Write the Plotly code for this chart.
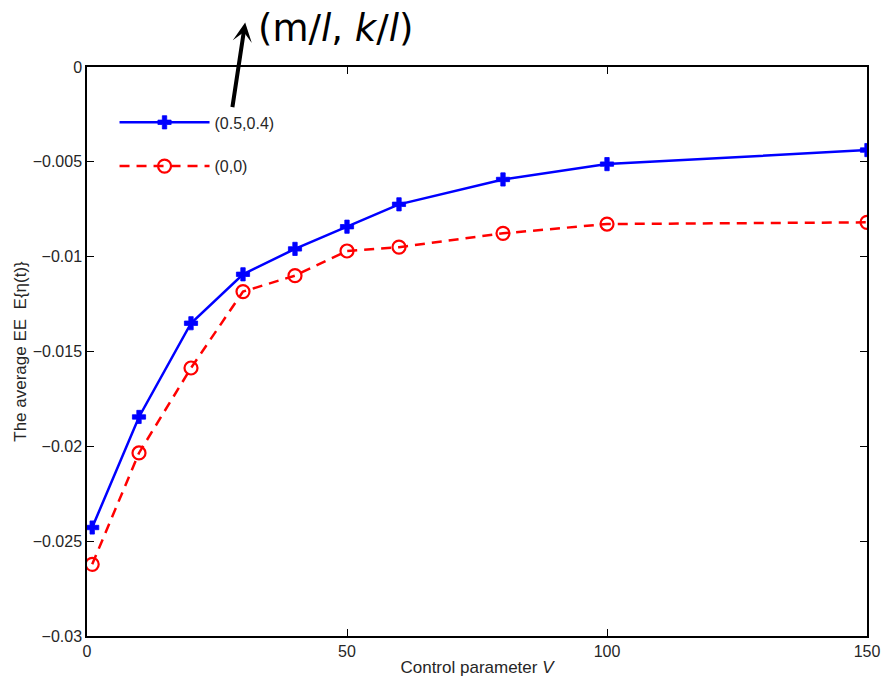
import plotly.graph_objects as go

V = [1, 10, 20, 30, 40, 50, 60, 80, 100, 150]
ee_05_04 = [-0.02428, -0.01845, -0.01351, -0.01093, -0.00959, -0.00842, -0.00724, -0.00593, -0.00512, -0.00438]
ee_0_0 = [-0.02622, -0.02035, -0.01587, -0.01184, -0.01100, -0.00970, -0.00950, -0.00877, -0.00828, -0.00819]
series_names = ["(0.5,0.4)", "(0,0)"]
x_ticks = [0, 50, 100, 150]
y_ticks = [0, -0.005, -0.01, -0.015, -0.02, -0.025, -0.03]
y_tick_labels = ["0", "\u22120.005", "\u22120.01", "\u22120.015", "\u22120.02", "\u22120.025", "\u22120.03"]

FONT = "Liberation Sans, Arial, Helvetica, sans-serif"
TXT = "#262626"

fig = go.Figure()
fig.add_trace(go.Scatter(
    x=V, y=ee_05_04, name=series_names[0], mode="lines+markers", legendgroup="a",
    line=dict(color="#0000ff", width=2.5),
    marker=dict(symbol="cross", size=11, color="#0000ff", line=dict(color="#0000ff", width=0.8)),
))
fig.add_trace(go.Scatter(
    x=V, y=ee_0_0, name=series_names[1], mode="lines+markers", legendgroup="b",
    line=dict(color="#ff0000", width=2.5, dash="10px,7px"),
    marker=dict(symbol="circle-open", size=13, color="#ff0000", line=dict(color="#ff0000", width=2.2)),
))

axis_common = dict(
    showline=True, linecolor="#000000", linewidth=1.5, mirror="ticks",
    ticks="inside", ticklen=7, tickwidth=1.2, tickcolor="#000000",
    showgrid=False, zeroline=False, automargin=False,
    tickfont=dict(family=FONT, size=16, color=TXT),
)

fig.update_layout(
    width=884, height=679,
    margin=dict(l=87, r=17, t=67, b=43),
    paper_bgcolor="white", plot_bgcolor="white",
    font=dict(family=FONT, size=16, color=TXT),
    xaxis=dict(range=[0, 150], tickvals=x_ticks,
               title=dict(text="Control parameter <i>V</i>", font=dict(family=FONT, size=17, color=TXT), standoff=2),
               **axis_common),
    yaxis=dict(range=[-0.03, 0], tickvals=y_ticks, ticktext=y_tick_labels,
               title=dict(text="The average EE  E{\u03b7(t)}", font=dict(family=FONT, size=17, color=TXT), standoff=2),
               **axis_common),
    legend=dict(x=0.0353, y=0.9325, xanchor="left", yanchor="top",
                bgcolor="rgba(0,0,0,0)", borderwidth=0,
                itemwidth=90, tracegroupgap=20,
                font=dict(family=FONT, size=16, color=TXT)),
    showlegend=True,
)

fig.add_annotation(
    xref="paper", yref="paper", x=0.2028, y=1.078,
    ax=-13, ay=86, text="", showarrow=True,
    arrowhead=3, arrowsize=0.8, arrowwidth=4, arrowcolor="#000000",
)
fig.add_annotation(
    xref="paper", yref="paper", x=0.319, y=1.068, xanchor="center", yanchor="middle",
    text="(m/<i>l</i>, <i>k</i>/<i>l</i>)", showarrow=False,
    font=dict(family="DejaVu Sans, sans-serif", size=37, color="#000000"),
)

fig.write_html(
    "out.html",
    config={"displayModeBar": False},
    post_script="document.body.style.margin='0';document.body.style.overflow='hidden';",
)
